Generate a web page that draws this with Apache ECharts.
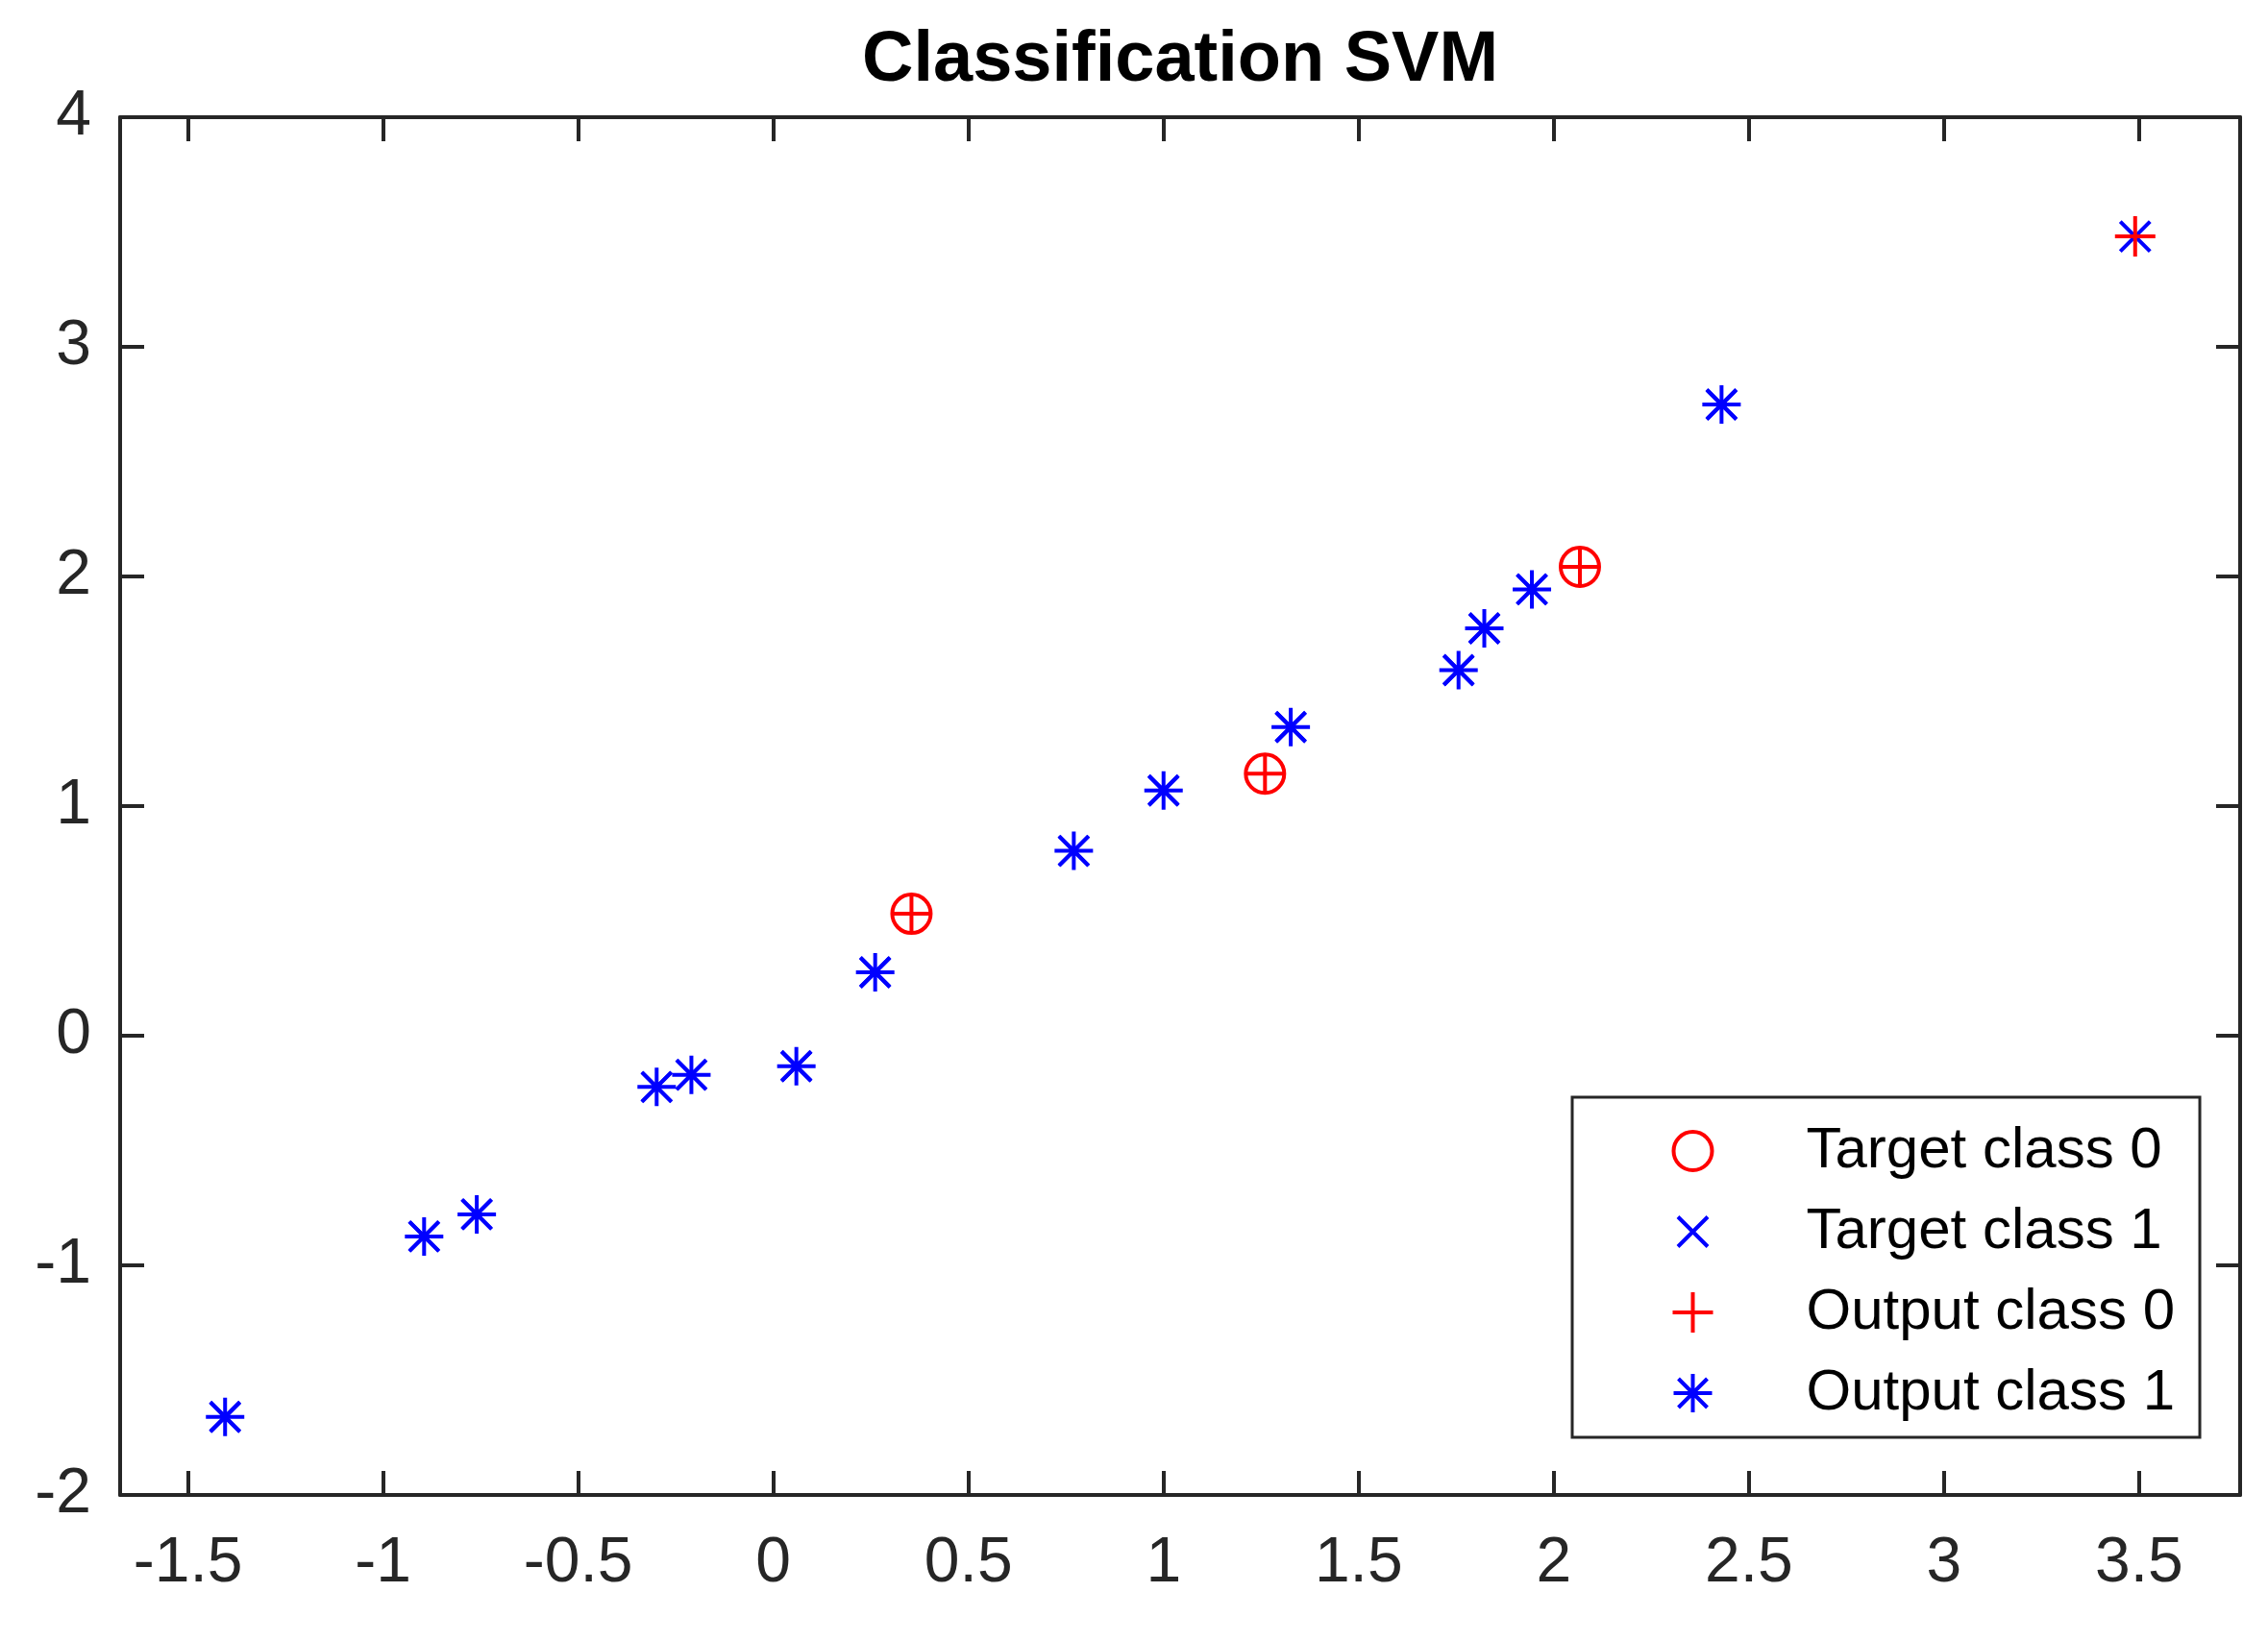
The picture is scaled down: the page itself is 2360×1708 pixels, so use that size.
<!DOCTYPE html>
<html>
<head>
<meta charset="utf-8">
<title>Classification SVM</title>
<script src="https://cdn.jsdelivr.net/npm/echarts@6/dist/echarts.min.js"></script>
<style>
    html, body { margin: 0; padding: 0; background: #fff; }
    #chart { width: 2360px; height: 1708px; }
</style>
</head>
<body>
<div id="chart"></div>
<script>
// 数据
const targetClass0 = [[0.354, 0.531], [1.260, 1.141], [2.067, 2.042]];
const targetClass1 = [
    [-1.405, -1.660], [-0.895, -0.874], [-0.760, -0.778], [-0.299, -0.223],
    [-0.210, -0.170], [0.059, -0.133], [0.261, 0.276], [0.770, 0.805],
    [1.000, 1.068], [1.326, 1.344], [1.756, 1.592], [1.822, 1.774],
    [1.944, 1.944], [2.430, 2.749], [3.490, 3.481]
];
const outputClass0 = [[0.354, 0.531], [1.260, 1.141], [2.067, 2.042], [3.490, 3.481]];
const outputClass1 = [
    [-1.405, -1.660], [-0.895, -0.874], [-0.760, -0.778], [-0.299, -0.223],
    [-0.210, -0.170], [0.059, -0.133], [0.261, 0.276], [0.770, 0.805],
    [1.000, 1.068], [1.326, 1.344], [1.756, 1.592], [1.822, 1.774],
    [1.944, 1.944], [2.430, 2.749]
];
const seriesNames = ['Target class 0', 'Target class 1', 'Output class 0', 'Output class 1'];
const xTicks = [-1.5, -1, -0.5, 0, 0.5, 1, 1.5, 2, 2.5, 3, 3.5];
const xRange = [-1.674, 3.759];
const yRange = [-2, 4];

// MATLAB 风格标记（统一 44x44 框）
const MARK = {
    circle: 'path://M0 0M44 44M2 22A20 20 0 1 1 42 22A20 20 0 1 1 2 22Z',
    cross: 'path://M0 0M44 44M6.5 6.5L37.5 37.5M37.5 6.5L6.5 37.5',
    plus: 'path://M0 0M44 44M22 1L22 43M1 22L43 22',
    star: 'path://M0 0M44 44M22 2L22 42M2 22L42 22M7 7L37 37M37 7L7 37'
};
const RED = '#ff0000';
const BLUE = '#0000ff';
const AXIS = '#262626';
const FONT = '"Liberation Sans", Arial, sans-serif';

const markers = [
    { data: targetClass0, symbol: MARK.circle, color: RED },
    { data: targetClass1, symbol: MARK.cross, color: BLUE },
    { data: outputClass0, symbol: MARK.plus, color: RED },
    { data: outputClass1, symbol: MARK.star, color: BLUE }
];

const chart = echarts.init(document.getElementById('chart'));

function xAxisOf(position, showLabel) {
    return {
        type: 'value',
        position: position,
        min: xRange[0],
        max: xRange[1],
        axisLine: { show: true, onZero: false, lineStyle: { color: AXIS, width: 4 } },
        axisTick: { show: true, inside: true, length: 25, customValues: xTicks, lineStyle: { color: AXIS, width: 4 } },
        axisLabel: {
            show: showLabel, customValues: xTicks, margin: 39,
            color: AXIS, fontSize: 66, fontFamily: FONT
        },
        splitLine: { show: false }
    };
}

function yAxisOf(position, showLabel) {
    return {
        type: 'value',
        position: position,
        min: yRange[0],
        max: yRange[1],
        interval: 1,
        axisLine: { show: true, onZero: false, lineStyle: { color: AXIS, width: 4 } },
        axisTick: { show: true, inside: true, length: 25, lineStyle: { color: AXIS, width: 4 } },
        axisLabel: { show: showLabel, margin: 30, color: AXIS, fontSize: 66, fontFamily: FONT },
        splitLine: { show: false }
    };
}

chart.setOption({
    animation: false,
    backgroundColor: '#fff',
    title: {
        text: 'Classification SVM',
        left: 897,
        top: 27,
        padding: 0,
        textStyle: { fontFamily: FONT, fontSize: 74, fontWeight: 'bold', color: '#000' }
    },
    grid: { left: 125, top: 122, width: 2206, height: 1434 },
    xAxis: [xAxisOf('bottom', true), xAxisOf('top', false)],
    yAxis: [yAxisOf('left', true), yAxisOf('right', false)],
    legend: {
        orient: 'vertical',
        left: 1636,
        top: 1142,
        // 图例内容按图标实际外框排布，左侧留白让图标中心落在原图位置
        padding: [26, 26, 16, 101],
        itemGap: 24,
        itemWidth: 226,
        itemHeight: 44,
        symbolKeepAspect: true,
        backgroundColor: '#fff',
        borderColor: AXIS,
        borderWidth: 3,
        borderRadius: 0,
        selectedMode: false,
        textStyle: { fontFamily: FONT, fontSize: 60, lineHeight: 60, color: '#000' },
        data: seriesNames.map((name, i) => ({
            name: name,
            icon: markers[i].symbol,
            itemStyle: { color: 'none', borderColor: markers[i].color, borderWidth: 4 }
        }))
    },
    series: markers.map((m, i) => ({
        name: seriesNames[i],
        type: 'scatter',
        data: m.data,
        symbol: m.symbol,
        symbolSize: 44,
        itemStyle: { color: 'none', borderColor: m.color, borderWidth: 4, opacity: 1 },
        emphasis: { disabled: true }
    }))
});

window.addEventListener('resize', () => chart.resize());
</script>
</body>
</html>
